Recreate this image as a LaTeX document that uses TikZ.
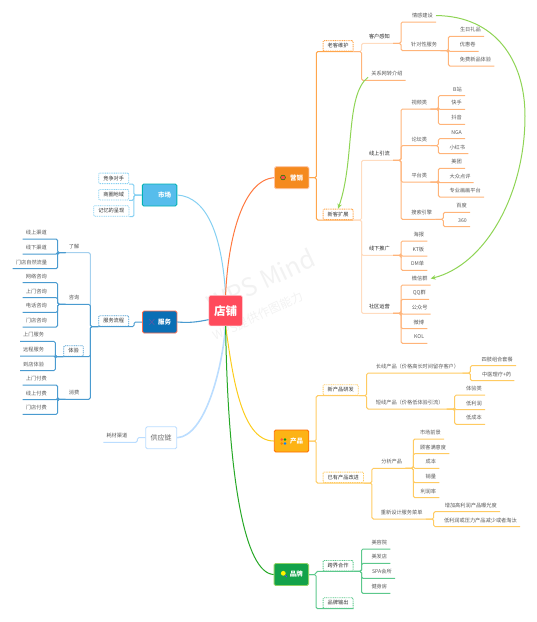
\documentclass[tikz,border=0pt]{standalone}
\usepackage{fontspec}
\setmainfont{Noto Sans CJK SC}
\usetikzlibrary{arrows.meta}
\definecolor{orgd}{HTML}{FFB47A}
\definecolor{orgl}{HTML}{FFDCC0}
\definecolor{yel}{HTML}{FFCB62}
\definecolor{grn}{HTML}{5CC88C}
\definecolor{blu}{HTML}{4A9BD0}
\definecolor{blul}{HTML}{A4D0EE}
\definecolor{sky}{HTML}{86D0F2}
\definecolor{pal}{HTML}{BBDDFF}
\definecolor{rel}{HTML}{8FD455}
\definecolor{rootc}{HTML}{FF4B5C}
\definecolor{mktc}{HTML}{F58A1F}
\definecolor{prodc}{HTML}{FDB315}
\definecolor{brandc}{HTML}{13A24A}
\definecolor{marketc}{HTML}{56BDEC}
\definecolor{servc}{HTML}{0A6FB5}
\tikzset{
    conn/.style={draw=#1,line width=1pt,rounded corners=1.5pt},
    curve/.style={draw=#1,line width=1pt},
    elbowr/.style={to path={(\tikztostart.south east) -- ++(8,0) |- (\tikztotarget.south east)}},
    elbowl/.style={to path={(\tikztostart.south west) -- ++(-8,0) |- (\tikztotarget.south west)}},
    mainr/.style={to path={(\tikztostart.east) -- ++(7,0) |- (\tikztotarget.south east)}},
    mainl/.style={to path={(\tikztostart.west) -- ++(-8,0) |- (\tikztotarget.south west)}},
    mainbox/.style={fill=#1,rounded corners=1.5pt,minimum width=34.5pt,minimum height=22pt,
        inner sep=0pt,line width=.9pt,text=white,font=\fontsize{6.5}{7}\selectfont\bfseries},
    dashbox/.style={draw=#1,fill=white,dash pattern=on 1pt off .8pt,line width=.8pt,rounded corners=1pt,
        anchor=south west,inner xsep=4.6pt,inner ysep=2.5pt,text=black!80,
        text height=4.5pt,text depth=1pt,font=\fontsize{5.2}{6}\selectfont},
    rleaf/.style={anchor=south east,inner xsep=3pt,inner ysep=3.5pt,text=black!65,
        text height=4.5pt,text depth=1pt,font=\fontsize{5.2}{6}\selectfont},
    lleaf/.style={rleaf,anchor=south west}
}
\begin{document}
\begin{tikzpicture}[x=1pt,y=-1pt]
    \useasboundingbox (0,0) rectangle (537,622);
    % watermark
    \node[text=black!5,font=\fontsize{25}{27}\selectfont,rotate=25] (wm1) at (261,281) {WPS Mind};
    \node[text=black!5,font=\fontsize{12}{14}\selectfont,rotate=25] (wm2) at (258,316) {WPS提供作图能力};
    % root and main topics
    \node[rounded corners=1.5pt,draw=rootc!30,fill=rootc,minimum width=33.5pt,minimum height=30.5pt,
        inner sep=0pt,line width=.6pt,text=white,font=\fontsize{11.5}{12}\selectfont\bfseries] (root) at (225.6,310.6) {店铺};
    \node[mainbox=mktc,draw=red!30!orange!35] (mkt) at (291.7,177.7) {\hspace{10pt}营销};
    \node[mainbox=prodc,draw=orange!85!red] (prod) at (291.5,441) {\hspace{10pt}产品};
    \node[mainbox=brandc,draw=green!60!yellow!70!black!60] (brand) at (291.3,574.5) {\hspace{10pt}品牌};
    \node[mainbox=marketc,draw=teal!60!cyan] (market) at (159.6,195) {\hspace{10pt}市场};
    \node[mainbox=servc,draw=red!65!orange!70] (serv) at (159.7,322) {\hspace{10pt}服务};
    \node[mainbox=white,draw=pal,text=black!60,minimum width=31pt,font=\fontsize{7}{8}\selectfont] (supply) at (161.2,437.7) {供应链};
    % icons
    \filldraw[draw=green!50!black,fill=red!70,line width=.5pt] (283,177.5) circle (2.4);
    \fill[red!70] (281.7,439.5) circle (1.4);
    \fill[green!60!black] (285,439.5) circle (1.4);
    \fill[orange] (281.7,443.5) circle (1.4);
    \fill[blue!50!cyan] (285,443.5) circle (1.4);
    \draw[blue!30!gray,line width=.6pt] (149,319) -- (154.5,325) (154.5,319) -- (149,325);
    \draw[blue!70,line width=.7pt] (284.5,574.5) -- (287,577);
    \fill[yellow] (283.3,573.3) circle (2.4);
    % curves from the root
    \draw[curve=sky] (root.north) .. controls (222,235) and (207,197) .. (market.east);
    \draw[curve=orange!60!red!75] (root.north) .. controls (228,238) and (243,180) .. (mkt.west);
    \draw[curve=blu,line width=1.1pt] (root.208) .. controls (197,322) and (190,323) .. (serv.east);
    \draw[curve=pal,line width=1.6pt] (root.south) .. controls (222,370) and (205,436) .. (supply.east);
    \draw[curve=yellow!60!orange!90] (root.south) .. controls (232,370) and (240,441) .. (prod.west);
    \draw[curve=green!60!black!85] (root.south) .. controls (228,480) and (245,573) .. (brand.west);
    % old customers
    \node[dashbox=orange!70] (old) at (322.7,51.5) {老客维护};
    \node[rleaf,text=black!85] (sense) at (393,43.3) {客户感知};
    \node[rleaf] (bond) at (436,22) {情感建设};
    \node[rleaf] (special) at (440.3,50.7) {针对性服务};
    \node[rleaf] (gift) at (484,36.3) {生日礼品};
    \node[rleaf] (coupon) at (478.7,51.3) {优惠卷};
    \node[rleaf] (trial) at (494.3,66) {免费新品体验};
    \node[rleaf] (refer) at (405.7,80.3) {关系网转介绍};
    % new customers
    \node[dashbox=orange!70] (new) at (322.7,220) {新客扩展};
    \node[rleaf,text=black!85] (online) at (393,160.3) {线上引流};
    \node[rleaf] (video) at (430.3,109) {视频类};
    \node[rleaf] (bili) at (465,95.7) {B站};
    \node[rleaf] (kuai) at (465,109.3) {快手};
    \node[rleaf] (douyin) at (465,124.3) {抖音};
    \node[rleaf] (forum) at (430.3,145.7) {论坛类};
    \node[rleaf] (nga) at (465,138.7) {NGA};
    \node[rleaf] (red) at (468.3,153.7) {小红书};
    \node[rleaf] (plat) at (430.3,182) {平台类};
    \node[rleaf] (meituan) at (465,168.3) {美团};
    \node[rleaf] (dianping) at (473.7,182.7) {大众点评};
    \node[rleaf] (paint) at (484,197) {专业画画平台};
    \node[rleaf] (search) at (435.3,219.3) {搜索引擎};
    \node[rleaf] (baidu) at (470,212.3) {百度};
    \node[rleaf] (so) at (470,226.7) {360};
    \node[rleaf,text=black!85] (offline) at (393,255.3) {线下推广};
    \node[rleaf] (poster) at (427.3,241) {海报};
    \node[rleaf] (kt) at (427.3,256) {KT板};
    \node[rleaf] (dm) at (427.3,270.3) {DM单};
    \node[rleaf,text=black!85] (comm) at (393,313.3) {社区运营};
    \node[rleaf] (wechat) at (430.7,285) {微信群};
    \node[rleaf] (qq) at (429,299.3) {QQ群};
    \node[rleaf] (pub) at (430.7,314) {公众号};
    \node[rleaf] (weibo) at (427.3,328.7) {微博};
    \node[rleaf] (kol) at (427.3,343.3) {KOL};
    \draw[conn=orange!70,mainr] (mkt) edge (old) edge (new);
    \draw[conn=orgl,elbowr] (old) edge (sense) (new) edge (online) edge (offline) edge (comm);
    \draw[conn=orgd,elbowr] (old) edge (refer);
    \draw[conn=orgd,elbowr] (sense) edge (bond) edge (special);
    \draw[conn=orgd,elbowr] (special) edge (gift) edge (coupon) edge (trial);
    \draw[conn=orgd,elbowr] (online) edge (video) edge (forum) edge (plat) edge (search);
    \draw[conn=orgd,elbowr] (video) edge (bili) edge (kuai) edge (douyin);
    \draw[conn=orgd,elbowr] (forum) edge (nga) edge (red);
    \draw[conn=orgd,elbowr] (plat) edge (meituan) edge (dianping) edge (paint);
    \draw[conn=orgd,elbowr] (search) edge (baidu) edge (so);
    \draw[conn=orgd,elbowr] (offline) edge (poster) edge (kt) edge (dm);
    \draw[conn=orgd,elbowr] (comm) edge (wechat) edge (qq) edge (pub) edge (weibo) edge (kol);
    % relation arrows
    \draw[curve=rel,-{Stealth[length=5pt,width=4.5pt]}] (bond.east) .. controls (495,16) and (525,60) .. (525,116)
        .. controls (525,195) and (485,265) .. (wechat.east);
    \draw[curve=rel,-{Stealth[length=5pt,width=4.5pt]}] (refer.190) .. controls (345,95) and (355,160) .. (new.north);
    % products
    \node[dashbox=yel] (newp) at (322.7,395.7) {新产品研发};
    \node[rleaf] (longp) at (462.3,373) {长线产品（价格高长时间留存客户）};
    \node[rleaf] (combo) at (516,365.7) {四肢组合套餐};
    \node[rleaf] (tcm) at (514.3,380.7) {中医理疗+药};
    \node[rleaf] (shortp) at (446.7,409) {短线产品（价格低体验引流）};
    \node[rleaf] (exper) at (485,395) {体验类};
    \node[rleaf] (lowm) at (485,409.7) {低利润};
    \node[rleaf] (lowc) at (485,424.3) {低成本};
    \node[dashbox=yel] (oldp) at (322.7,483) {已有产品改进};
    \node[rleaf] (anal) at (405.3,468.3) {分析产品};
    \node[rleaf] (pros) at (444,439) {市场前景};
    \node[rleaf] (satis) at (449.3,453.7) {顾客满意度};
    \node[rleaf] (cost) at (439.3,468.3) {成本};
    \node[rleaf] (sales) at (439.3,482.7) {销量};
    \node[rleaf] (rate) at (439.3,497.7) {利润率};
    \node[rleaf] (menu) at (425.7,519) {重新设计服务菜单};
    \node[rleaf] (expo) at (500,511.7) {增加高利润产品曝光度};
    \node[rleaf] (cut) at (520,526.7) {低利润或压力产品减少或者淘汰};
    \draw[conn=yel,mainr] (prod) edge (newp) edge (oldp);
    \draw[conn=yel,elbowr] (newp) edge (longp) edge (shortp);
    \draw[conn=yel,elbowr] (longp) edge (combo) edge (tcm);
    \draw[conn=yel,elbowr] (shortp) edge (exper) edge (lowm) edge (lowc);
    \draw[conn=yel,elbowr] (oldp) edge (anal) edge (menu);
    \draw[conn=yel,elbowr] (anal) edge (pros) edge (satis) edge (cost) edge (sales) edge (rate);
    \draw[conn=yel,elbowr] (menu) edge (expo) edge (cut);
    % brand
    \node[dashbox=grn] (cross) at (322.7,571.3) {跨界合作};
    \node[rleaf] (beauty) at (390.3,549) {美容院};
    \node[rleaf] (hair) at (390.3,563.3) {美发店};
    \node[rleaf] (spa) at (395,578.3) {SPA会所};
    \node[rleaf] (gym) at (390.3,593.3) {健身房};
    \node[dashbox=grn] (output) at (322.7,608.7) {品牌输出};
    \draw[conn=grn,mainr] (brand) edge (cross) edge (output);
    \draw[conn=grn,elbowr] (cross) edge (beauty) edge (hair) edge (spa) edge (gym);
    % market
    \node[dashbox=sky] (rival) at (98.3,184) {竞争对手};
    \node[dashbox=sky] (area) at (98.3,200.3) {商圈地域};
    \node[dashbox=sky] (memo) at (93.3,216.7) {记忆的呈现};
    \draw[conn=sky] (market.west) -- ++(-8,0) |- (rival.south east);
    \draw[conn=sky] (market.west) -- ++(-8,0) |- (area.south east);
    \draw[conn=sky] (market.west) -- ++(-8,0) |- (memo.south east);
    % service
    \node[dashbox=blu] (flow) at (98.3,326.7) {服务流程};
    \node[lleaf] (know) at (65.7,252.7) {了解};
    \node[lleaf] (onch) at (22.7,239) {线上渠道};
    \node[lleaf] (offch) at (22.7,254) {线下渠道};
    \node[lleaf] (walk) at (12.7,268.7) {门店自然流量};
    \node[lleaf] (ask) at (65.7,304.3) {咨询};
    \node[lleaf] (netask) at (22.7,282.7) {网络咨询};
    \node[lleaf] (visask) at (22.7,297.7) {上门咨询};
    \node[lleaf] (telask) at (22.7,312.3) {电话咨询};
    \node[lleaf] (shopask) at (22.7,327) {门店咨询};
    \node[dashbox=blu] (feel) at (63.3,356.7) {体验};
    \node[lleaf] (home) at (20,341.3) {上门服务};
    \node[lleaf] (remote) at (20,356) {远程服务};
    \node[lleaf] (store) at (20,370.7) {到店体验};
    \node[lleaf] (pay) at (65.7,399.3) {消费};
    \node[lleaf] (homepay) at (22.7,385) {上门付费};
    \node[lleaf] (netpay) at (22.7,399.7) {线上付费};
    \node[lleaf] (shoppay) at (22.7,414.3) {门店付费};
    \draw[conn=blu,mainl] (serv) edge (flow);
    \draw[conn=blul,elbowl] (flow) edge (know);
    \draw[conn=blu,elbowl] (flow) edge (ask) edge (feel) edge (pay);
    \draw[conn=blu,elbowl] (know) edge (onch) edge (offch) edge (walk);
    \draw[conn=blu,elbowl] (ask) edge (netask) edge (visask) edge (telask) edge (shopask);
    \draw[conn=blu,elbowl] (feel) edge (home) edge (remote) edge (store);
    \draw[conn=blu,elbowl] (pay) edge (homepay) edge (netpay) edge (shoppay);
    % supply chain
    \node[lleaf] (mater) at (103.3,442.3) {耗材渠道};
    \draw[conn=pal,mainl] (supply) edge (mater);
\end{tikzpicture}
\end{document}
